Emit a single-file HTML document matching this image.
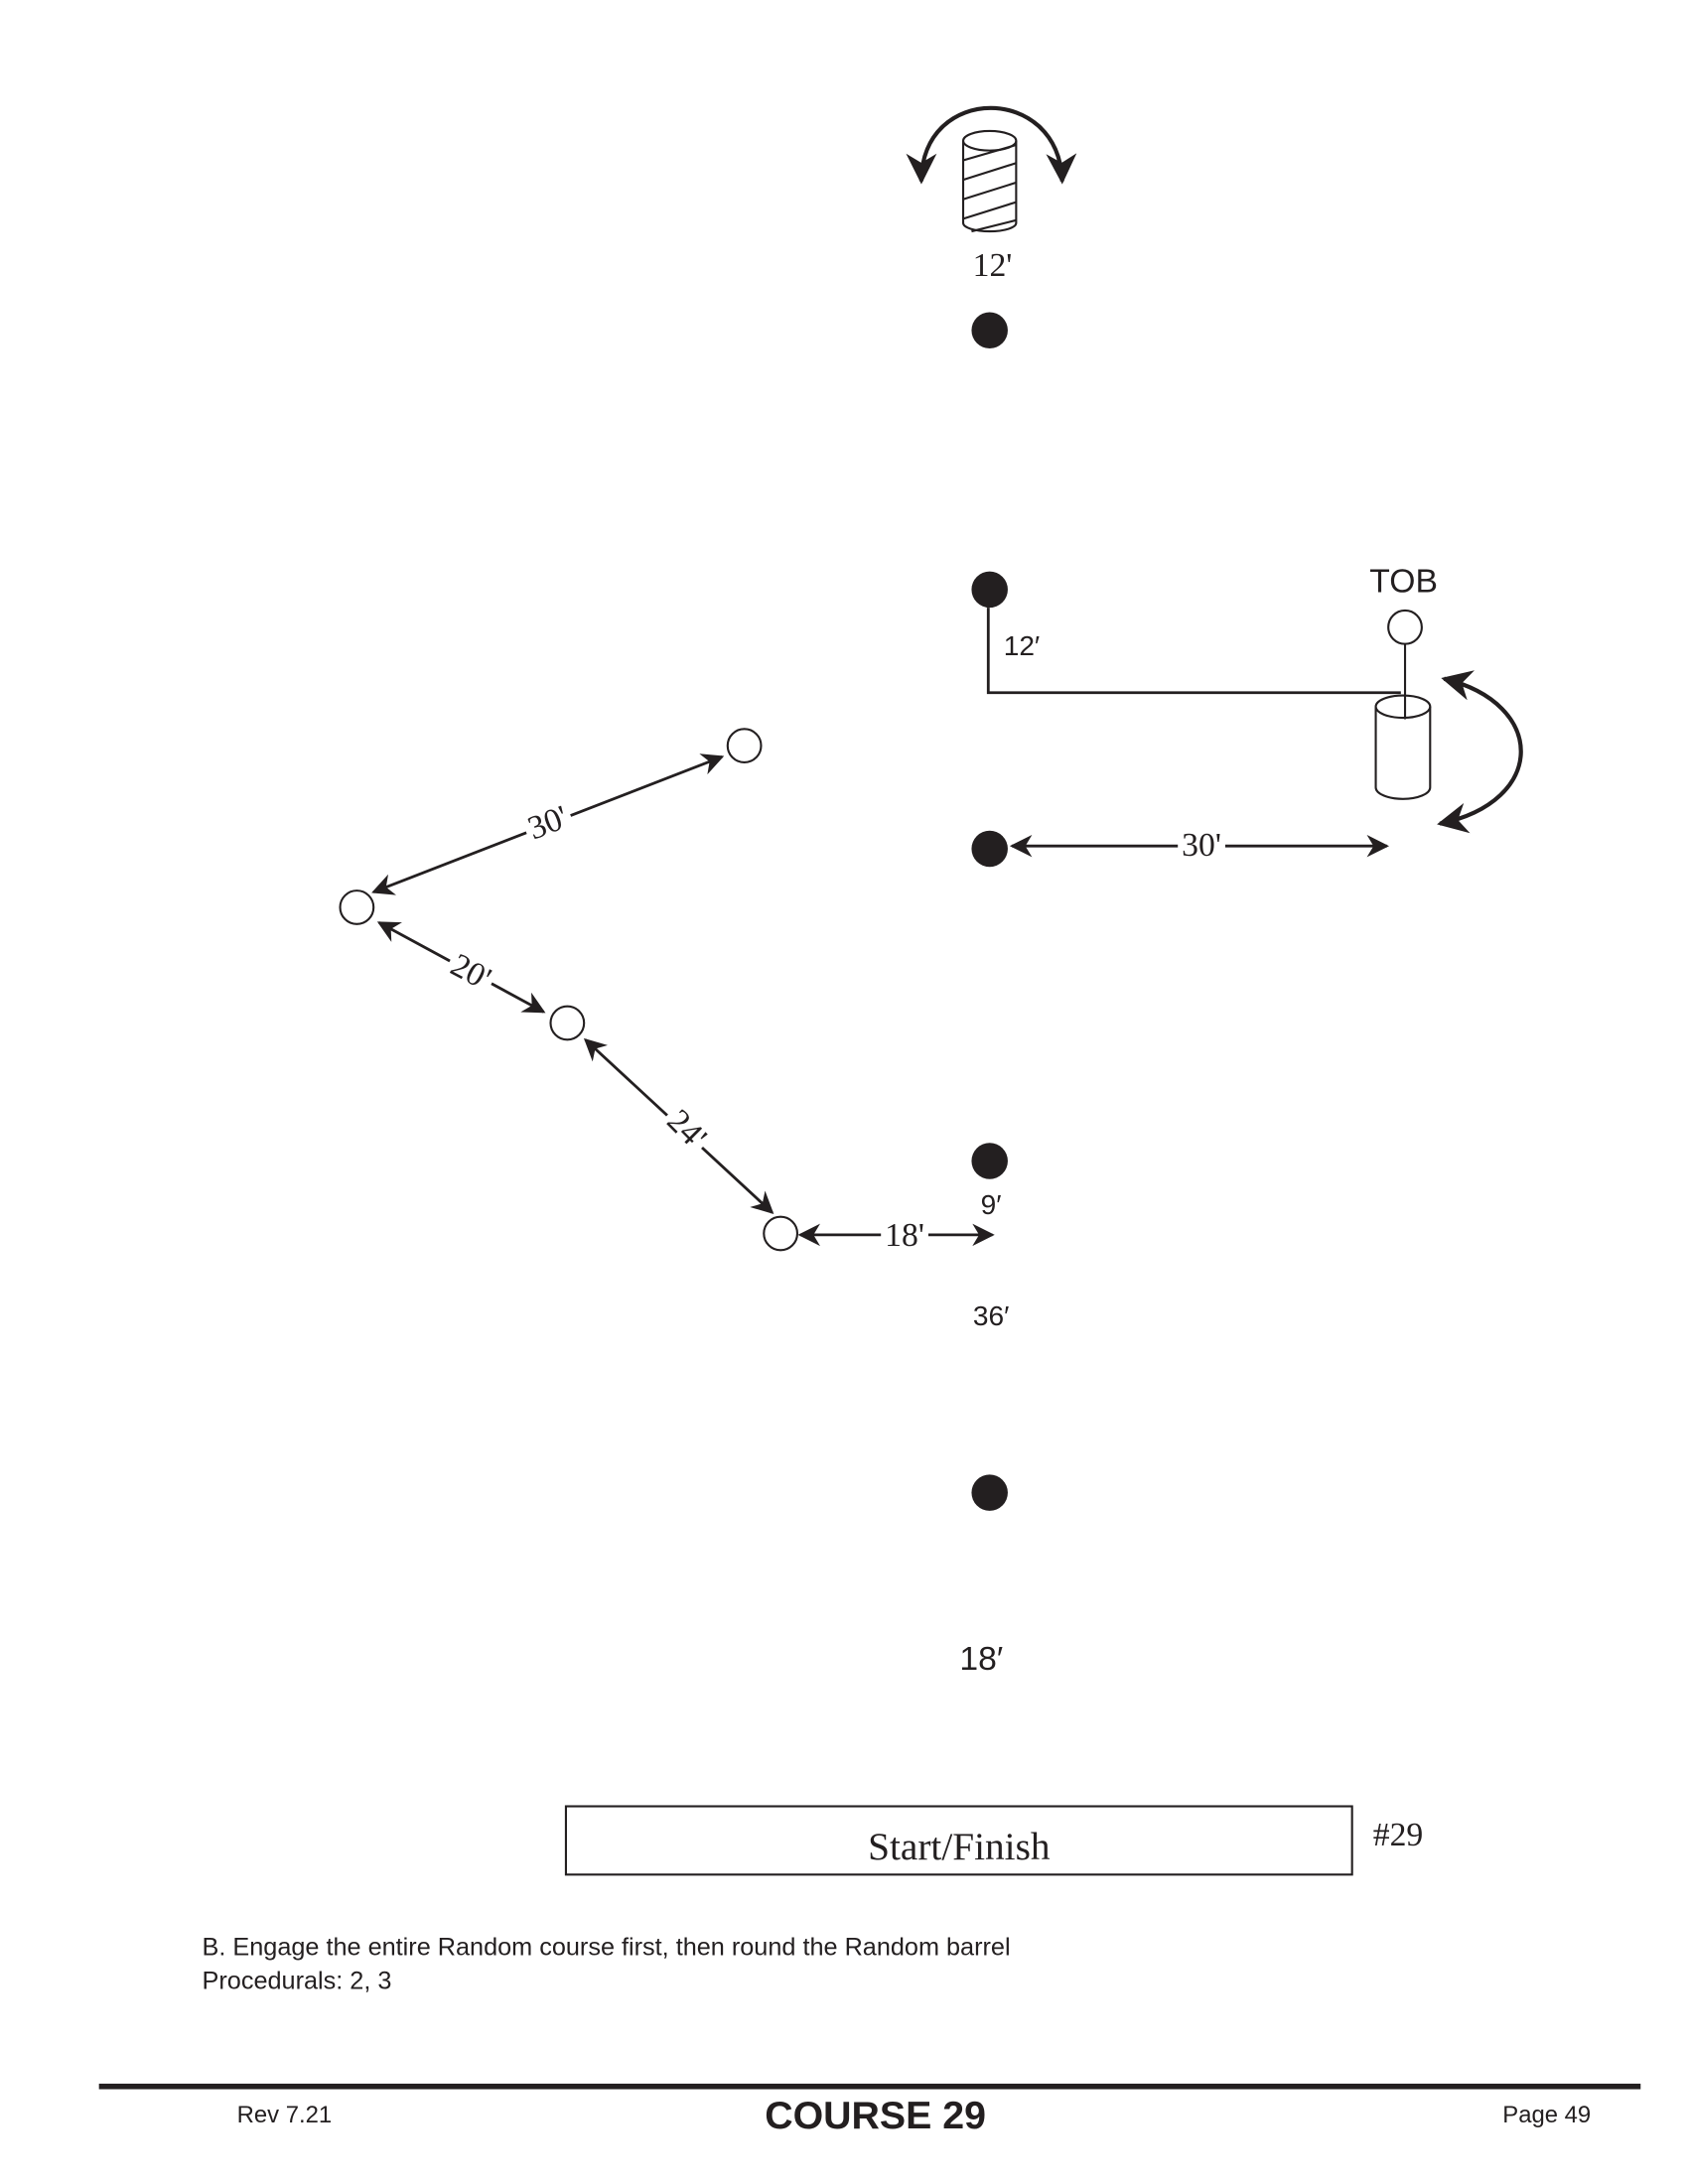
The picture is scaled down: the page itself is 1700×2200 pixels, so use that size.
<!DOCTYPE html>
<html><head><meta charset="utf-8"><style>html,body{margin:0;padding:0;background:#fff}svg{display:block}</style></head>
<body>
<svg width="1700" height="2200" viewBox="0 0 1211 1567" preserveAspectRatio="none" xmlns="http://www.w3.org/2000/svg">
<defs>
<marker id="a" viewBox="0 0 10 10" refX="9" refY="5" markerWidth="16" markerHeight="16" markerUnits="userSpaceOnUse" orient="auto-start-reverse"><path d="M0,0 L10,5 L0,10 L3,5 Z" fill="#231f20"/></marker>
<marker id="b" viewBox="0 0 10 10" refX="9" refY="5" markerWidth="22" markerHeight="22" markerUnits="userSpaceOnUse" orient="auto-start-reverse"><path d="M0,0 L10,5 L0,10 L3,5 Z" fill="#231f20"/></marker>
</defs>
<g stroke="#231f20" fill="none" stroke-width="1.5">
<path d="M691,101 V160 A19,6 0 0 0 729,160 V101" fill="#fff"/>
<ellipse cx="710" cy="101" rx="19" ry="7" fill="#fff"/>
<path d="M691,115 L729,104 M691,129 L729,117 M691,143 L729,131 M691,157 L729,145 M697,166 L729,158"/>
<path d="M661,130 C661,60 760,60 762,130" stroke-width="3" marker-start="url(#b)" marker-end="url(#b)"/>
<path d="M709,436 V497 H1005" stroke-width="2"/>
<circle cx="1008" cy="450" r="12" fill="#fff"/>
<path d="M987,507 V565 A19,8 0 0 0 1026,565 V507" fill="#fff"/>
<ellipse cx="1006.5" cy="507" rx="19.5" ry="8" fill="#fff"/>
<path d="M1008,462 V516"/>
<path d="M1036,487 C1110,505 1110,575 1033,591" stroke-width="3" marker-start="url(#b)" marker-end="url(#b)"/>
<path d="M726,607 H995" stroke-width="2" marker-start="url(#a)" marker-end="url(#a)"/>
<path d="M268,640 L518,543" stroke-width="2" marker-start="url(#a)" marker-end="url(#a)"/>
<path d="M272,662 L390,726" stroke-width="2" marker-start="url(#a)" marker-end="url(#a)"/>
<path d="M420,746 L554,870" stroke-width="2" marker-start="url(#a)" marker-end="url(#a)"/>
<path d="M574,886 H712" stroke-width="2" marker-start="url(#a)" marker-end="url(#a)"/>
<circle cx="534" cy="535" r="12" fill="#fff"/>
<circle cx="256" cy="651" r="12" fill="#fff"/>
<circle cx="407" cy="734" r="12" fill="#fff"/>
<circle cx="560" cy="885" r="12" fill="#fff"/>
<rect x="406" y="1296" width="564" height="49" stroke-width="1.5"/>
</g>
<g fill="#231f20">
<circle cx="710" cy="237" r="13"/><circle cx="710" cy="423" r="13"/><circle cx="710" cy="609" r="13"/><circle cx="710" cy="833" r="13"/><circle cx="710" cy="1071" r="13"/>
<rect x="71" y="1495" width="1106" height="4"/>
</g>
<g font-family="'Liberation Serif',serif" fill="#231f20" text-anchor="middle">
<text x="712" y="198" font-size="24">12'</text>
<rect x="845" y="594" width="34" height="24" fill="#fff"/>
<text x="862" y="614" font-size="24">30'</text>
<g transform="translate(393,590) rotate(-21)"><rect x="-17" y="-12" width="34" height="24" fill="#fff"/><text y="8" font-size="24">30'</text></g>
<g transform="translate(338,697) rotate(28)"><rect x="-17" y="-12" width="34" height="24" fill="#fff"/><text y="8" font-size="24">20'</text></g>
<g transform="translate(493,810) rotate(45)"><rect x="-17" y="-12" width="34" height="24" fill="#fff"/><text y="8" font-size="24">24'</text></g>
<rect x="632" y="874" width="34" height="24" fill="#fff"/>
<text x="649" y="894" font-size="24">18'</text>
<text x="688" y="1334" font-size="28">Start/Finish</text>
<text x="1003" y="1324" font-size="24">#29</text>
</g>
<g font-family="'Liberation Sans',sans-serif" fill="#231f20">
<text x="720" y="470" font-size="20">12′</text>
<text x="1007" y="425" font-size="24" text-anchor="middle">TOB</text>
<text x="711" y="871" font-size="20" text-anchor="middle">9′</text>
<text x="711" y="951" font-size="20" text-anchor="middle">36′</text>
<text x="704" y="1198" font-size="24" text-anchor="middle">18′</text>
<text x="145" y="1403" font-size="18">B. Engage the entire Random course first, then round the Random barrel</text>
<text x="145" y="1427" font-size="18">Procedurals:  2, 3</text>
<text x="170" y="1523" font-size="17">Rev 7.21</text>
<text x="628" y="1527" font-size="28" font-weight="bold" text-anchor="middle">COURSE 29</text>
<text x="1078" y="1523" font-size="17">Page 49</text>
</g>
</svg>
</body></html>
